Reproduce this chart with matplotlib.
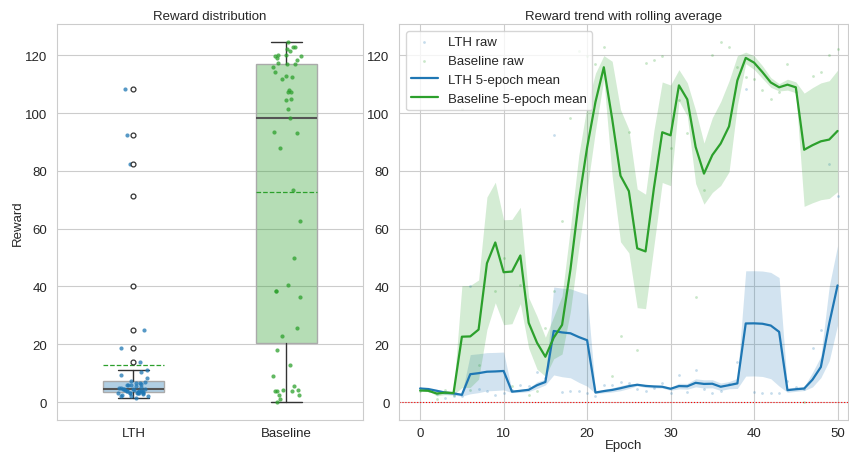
import numpy as np
import pandas as pd
import matplotlib
matplotlib.use("Agg")
import matplotlib.pyplot as plt
import seaborn as sns

# per-epoch reward for the two runs
epochs = np.arange(51)
lth_reward = [4.7, 4.3, 2.7, 1.3, 2.0, 2.2, 40.0, 4.5, 3.8, 2.5,
              3.0, 4.2, 6.0, 5.5, 10.5, 8.5, 92.5, 3.5, 4.0, 4.0,
              3.0, 2.0, 6.0, 6.0, 7.0, 6.5, 4.5, 4.0, 5.0, 6.5,
              3.0, 9.2, 3.6, 11.0, 4.6, 3.3, 4.0, 6.4, 14.0, 108.3,
              3.5, 3.3, 3.3, 3.1, 7.4, 5.1, 4.5, 18.7, 25.0, 82.4, 71.2]
baseline_reward = [4.0, 3.8, 1.0, 4.3, 2.5, 101.5, 4.3, 12.8, 119.0, 38.5,
                   50.0, 5.5, 40.6, 2.5, 4.0, 25.8, 38.5, 62.7, 98.2, 121.3,
                   119.9, 117.1, 122.7, 9.1, 22.8, 93.3, 18.1, 117.3, 118.5, 119.6,
                   87.9, 104.6, 93.0, 36.2, 73.5, 120.0, 124.5, 122.7, 115.8, 112.4,
                   111.8, 108.1, 104.8, 107.4, 117.0, 107.2, 0.1, 112.7, 114.1, 120.0, 122.1]

groups = ["LTH", "Baseline"]
colors = ["tab:blue", "tab:green"]
window = 5

sns.set_style("whitegrid")
plt.rcParams["font.family"] = ["Liberation Sans", "DejaVu Sans"]
plt.rcParams["font.size"] = 9.5


def rolling_stats(values):
    s = pd.Series(values, dtype=float)
    roll = s.rolling(window, min_periods=1)
    mean = roll.mean()
    sem = roll.std(ddof=0) / np.sqrt(roll.count())
    return mean.values, sem.values


fig = plt.figure(figsize=(8.49, 4.56), dpi=100)
ax1 = fig.add_axes([0.0671, 0.0774, 0.3601, 0.8671])
ax2 = fig.add_axes([0.4703, 0.0774, 0.5290, 0.8671])

# --- left: box + strip ---
data = [lth_reward, baseline_reward]
bp = ax1.boxplot(
    data, positions=[0, 1], widths=0.4, patch_artist=True,
    showmeans=True, meanline=True,
    medianprops=dict(color="#555555", lw=1.5),
    whiskerprops=dict(color="#333333", lw=1),
    capprops=dict(color="#333333", lw=1),
    meanprops=dict(color="tab:green", ls="--", lw=0.9),
    flierprops=dict(marker="o", mfc="white", mec="#333333", ms=3.5, mew=0.9),
)
for patch, c in zip(bp["boxes"], colors):
    patch.set_facecolor(matplotlib.colors.to_rgba(c, 0.35))
    patch.set_edgecolor("#aaaaaa")
    patch.set_linewidth(1)
for fl in bp["fliers"]:
    fl.set_zorder(4)

rng = np.random.default_rng(3)
for i, (vals, c) in enumerate(zip(data, colors)):
    jitter = rng.uniform(-0.1, 0.1, len(vals))
    ax1.scatter(i + jitter, vals, s=9, color=c, alpha=0.75, lw=0, zorder=3)

ax1.set_xlim(-0.5, 1.5)
ax1.set_ylim(-6.1, 130.7)
ax1.set_xticks([0, 1])
ax1.set_xticklabels(groups)
ax1.set_yticks(np.arange(0, 121, 20))
ax1.set_ylabel("Reward", labelpad=1)
ax1.set_title("Reward distribution", fontsize=9.5, pad=4)
ax1.xaxis.grid(False)

# --- right: raw points + rolling mean with band ---
for vals, c, name in zip(data, colors, groups):
    ax2.scatter(epochs, vals, s=4, color=c, alpha=0.25, lw=0, label=f"{name} raw")
for vals, c, name in zip(data, colors, groups):
    mean, sem = rolling_stats(vals)
    ax2.fill_between(epochs, mean - sem, mean + sem, color=c, alpha=0.2, lw=0)
    ax2.plot(epochs, mean, color=c, lw=1.6, label=f"{name} {window}-epoch mean")

ax2.axhline(0, color="red", ls=":", lw=0.8)
ax2.set_xlim(-2.5, 51.3)
ax2.set_ylim(-6.1, 130.7)
ax2.set_xticks(np.arange(0, 51, 10))
ax2.set_yticks(np.arange(0, 121, 20))
ax2.set_xlabel("Epoch", labelpad=0)
ax2.set_title("Reward trend with rolling average", fontsize=9.5, pad=4)
ax2.legend(loc="upper left", fontsize=9.5)

for ax in (ax1, ax2):
    ax.tick_params(labelsize=9.5)
    ax.tick_params(axis="x", pad=1.5)

fig.savefig("out.png", dpi=100)
